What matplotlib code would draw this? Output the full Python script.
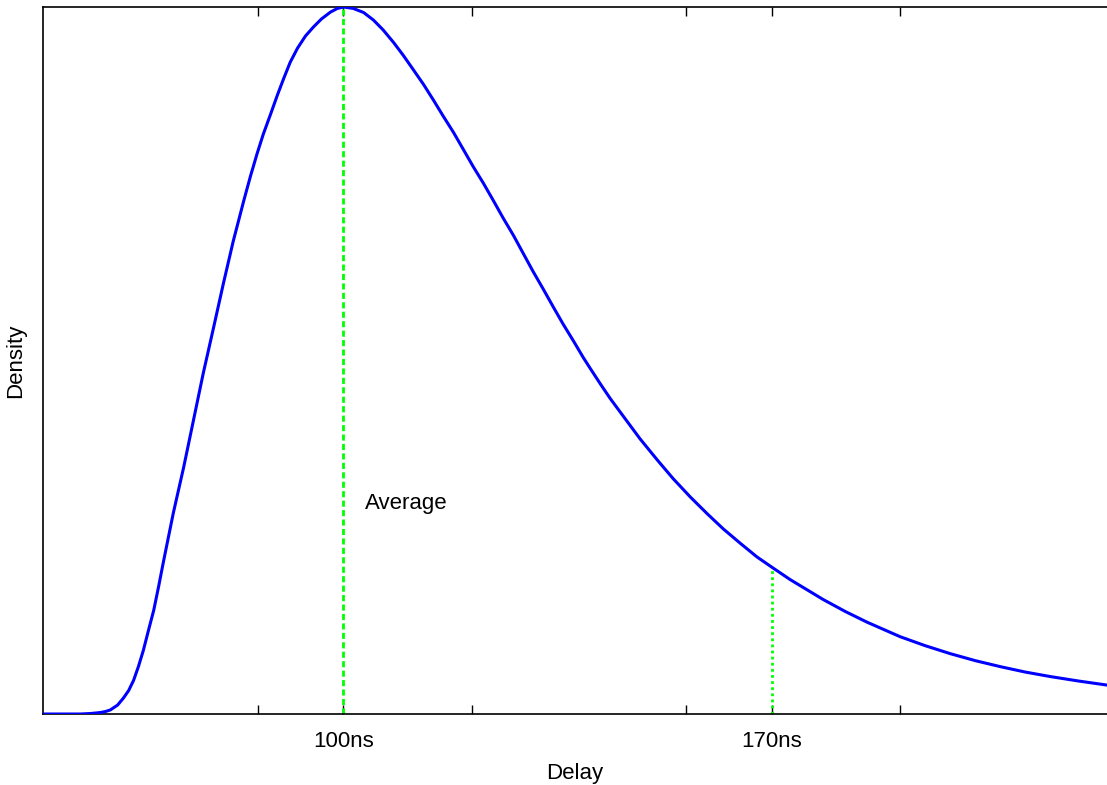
import numpy as np
import matplotlib
matplotlib.use("Agg")
import matplotlib.pyplot as plt

# curve (delay in ns, density normalised to peak = 1)
delay_ns = [51.0, 57.0, 58.7, 60.3, 61.1, 61.9, 63.1, 64.05, 64.9, 65.7, 66.5,
            67.3, 68.1, 69.0, 69.8, 70.6, 71.4, 72.2, 73.9, 75.5, 77.1, 78.8,
            80.4, 82.0, 83.7, 84.8, 85.9, 86.9, 88.1, 89.2, 90.2, 91.3, 92.5,
            93.8, 95.1, 96.4, 97.9, 99.0, 100.0,
            101.6, 103.3, 104.9, 106.5, 108.2, 109.8, 111.4, 113.1, 114.7,
            116.3, 118.0, 119.6, 121.2, 122.9, 124.5, 126.1, 127.8, 129.4,
            131.0, 132.7, 134.3, 135.9, 137.6, 139.2, 140.4, 142.0, 143.6,
            145.8, 148.5, 151.3, 153.9, 156.7, 159.5, 162.1, 164.9, 167.6,
            170.1, 173.0, 175.7, 178.4, 182.0, 185.6, 191.0, 195.1, 199.2,
            203.3, 207.4, 211.4, 215.5, 220.1, 224.8]
density = [0.0, 0.0, 0.0007, 0.0021, 0.0035, 0.0057, 0.0127, 0.0226, 0.0332,
           0.0475, 0.0672, 0.0900, 0.1170, 0.1468, 0.1805, 0.2160, 0.2502,
           0.2843, 0.3494, 0.4158, 0.4823, 0.5474, 0.6096, 0.6690, 0.7256,
           0.7605, 0.7928, 0.8200, 0.8485, 0.8752, 0.8980, 0.9218, 0.9418,
           0.9590, 0.9717, 0.9830, 0.9929, 0.9979, 1.0,
           0.9980, 0.9922, 0.9816, 0.9675, 0.9498, 0.9314, 0.9116, 0.8904,
           0.8685, 0.8458, 0.8225, 0.7985, 0.7744, 0.7504, 0.7263, 0.7016,
           0.6768, 0.6513, 0.6259, 0.6004, 0.5757, 0.5516, 0.5276, 0.5042,
           0.4880, 0.4668, 0.4463, 0.4205, 0.3890, 0.3593, 0.3328, 0.3069,
           0.2829, 0.2617, 0.2412, 0.2221, 0.2072, 0.1902, 0.1761, 0.1620,
           0.1451, 0.1298, 0.1093, 0.0966, 0.0853, 0.0754, 0.0669, 0.0594,
           0.0530, 0.0467, 0.0409]

average_ns = 100
average_density = 1.0
tail_ns = 170
tail_density = 0.208

minor_ticks = [86, 121, 156, 191]
major_ticks = [100, 170]
major_labels = ["100ns", "170ns"]

plt.rcParams["font.family"] = ["Liberation Sans", "DejaVu Sans"]

fig = plt.figure(figsize=(11.07, 7.85), dpi=100)
ax = fig.add_axes([43 / 1107, 1 - 714 / 785, 1 - 43 / 1107, 707 / 785])

ax.plot(delay_ns, density, color="#0000ff", linewidth=2.2, zorder=3,
        solid_joinstyle="round")
ax.plot([average_ns, average_ns], [0, average_density], color="#00ff00",
        linewidth=2.0, linestyle=(0, (2.2, 1.2)), zorder=2)
ax.plot([tail_ns, tail_ns], [0, tail_density], color="#00ff00",
        linewidth=2.0, linestyle=(0, (1, 1.2)), zorder=2)

ax.text(103.5, 0.298, "Average", fontsize=16, ha="left", va="center")

ax.set_xlim(50.9, 224.8)
ax.set_ylim(0, 1.0)

ax.set_xticks(minor_ticks + major_ticks)
ax.set_xticklabels([""] * len(minor_ticks) + major_labels)
ax.set_yticks([])
ax.tick_params(axis="x", direction="in", length=6.5, width=1.0,
               top=True, labelsize=16, pad=12)

for side in ["left", "top", "bottom"]:
    ax.spines[side].set_linewidth(1.2)
ax.spines["right"].set_visible(False)

ax.set_xlabel("Delay", fontsize=16, labelpad=8)
ax.set_ylabel("Density", fontsize=16, labelpad=12)

fig.savefig("out.png", dpi=100)
